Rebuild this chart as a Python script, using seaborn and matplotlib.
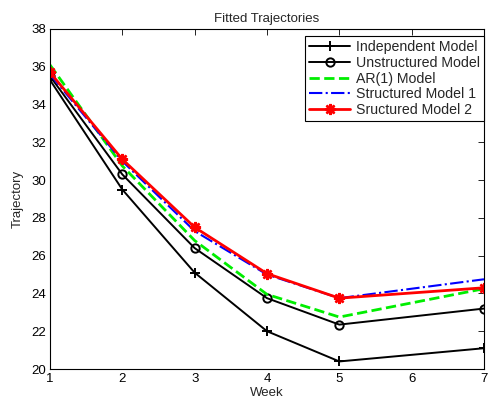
import matplotlib
matplotlib.use("Agg")
import matplotlib.pyplot as plt
import seaborn as sns

# values
weeks = [1, 2, 3, 4, 5, 7]
independent = [35.3, 29.5, 25.1, 22.0, 20.4, 21.1]
unstructured = [35.5, 30.3, 26.4, 23.75, 22.35, 23.2]
ar1 = [36.1, 30.75, 26.8, 23.95, 22.75, 24.25]
structured1 = [35.6, 31.0, 27.3, 25.0, 23.75, 24.75]
structured2 = [35.7, 31.1, 27.5, 25.05, 23.75, 24.3]

sns.set_theme(style="white")
plt.rcParams['font.family'] = ['Liberation Sans', 'DejaVu Sans']
plt.rcParams['xtick.direction'] = 'in'
plt.rcParams['ytick.direction'] = 'in'

fs = 9.5
fig = plt.figure(figsize=(4.9, 4.09), dpi=100)
ax = fig.add_axes([50 / 490, 40 / 409, 434 / 490, 340 / 409])

sns.lineplot(x=weeks, y=independent, ax=ax, color='black', linewidth=1.4,
             marker='+', markersize=7, markeredgecolor='black', markeredgewidth=1.4,
             label='Independent Model')
sns.lineplot(x=weeks, y=unstructured, ax=ax, color='black', linewidth=1.4,
             marker='o', markersize=6, markerfacecolor='none', markeredgecolor='black',
             markeredgewidth=1.4, label='Unstructured Model')
sns.lineplot(x=weeks, y=ar1, ax=ax, color='#00ee00', linewidth=2, linestyle='--',
             dashes=(3, 3), label='AR(1) Model')
sns.lineplot(x=weeks, y=structured1, ax=ax, color='blue', linewidth=1.5,
             linestyle='-.', label='Structured Model 1')
sns.lineplot(x=weeks, y=structured2, ax=ax, color='red', linewidth=2,
             marker=(8, 2, 0), markersize=8, markeredgecolor='red',
             markeredgewidth=1.8, label='Sructured Model 2')

ax.set_xlim(1, 7)
ax.set_ylim(20, 38)
ax.set_xticks(range(1, 8))
ax.set_yticks(range(20, 39, 2))
ax.tick_params(labelsize=fs, top=True, right=True, length=4, width=0.6,
               colors='black', pad=3)
for s in ax.spines.values():
    s.set_color('black')
    s.set_linewidth(0.8)

ax.set_title("Fitted Trajectories", fontsize=fs, pad=5)
ax.set_xlabel("Week", fontsize=fs, labelpad=1)
ax.set_ylabel("Trajectory", fontsize=fs, labelpad=5)

leg = ax.legend(loc='upper right', bbox_to_anchor=(1.0, 1 - 7 / 340), fontsize=10.2,
                fancybox=False, framealpha=1, edgecolor='black', handlelength=2.9,
                borderaxespad=0, labelspacing=0.12, handletextpad=0.4, borderpad=0.3)
leg.get_frame().set_linewidth(0.8)

fig.savefig("out.png", dpi=100)
